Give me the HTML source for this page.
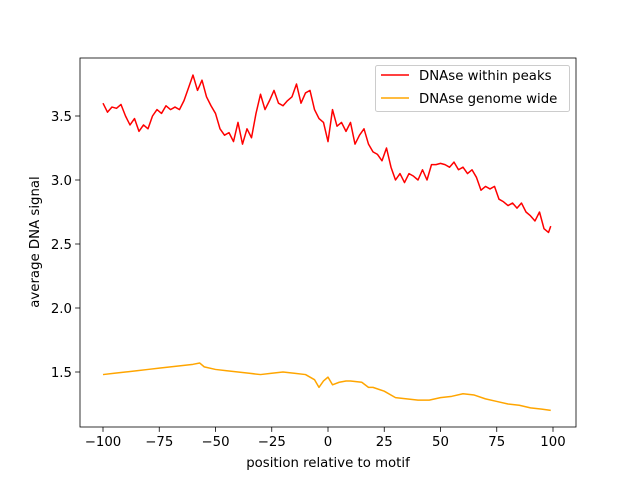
<!DOCTYPE html>
<html><head><meta charset="utf-8"><style>body{margin:0;background:#fff}svg text{font-family:"DejaVu Sans","Liberation Sans",sans-serif;}</style></head>
<body>
<svg id="c" width="640" height="480"></svg>
<script>
const redX=[-100,-98,-96,-94,-92,-90,-88,-86,-84,-82,-80,-78,-76,-74,-72,-70,-68,-66,-64,-62,-60,-58,-56,-54,-52,-50,-48,-46,-44,-42,-40,-38,-36,-34,-32,-30,-28,-26,-24,-22,-20,-18,-16,-14,-12,-10,-8,-6,-4,-2,0,2,4,6,8,10,12,14,16,18,20,22,24,26,28,30,32,34,36,38,40,42,44,46,48,50,52,54,56,58,60,62,64,66,68,70,72,74,76,78,80,82,84,86,88,90,92,94,96,98,99];
const redY=[3.60,3.53,3.57,3.56,3.59,3.50,3.43,3.48,3.38,3.43,3.40,3.50,3.55,3.52,3.58,3.55,3.57,3.55,3.62,3.72,3.82,3.70,3.78,3.65,3.58,3.52,3.40,3.35,3.37,3.30,3.45,3.28,3.40,3.33,3.52,3.67,3.55,3.62,3.70,3.60,3.58,3.62,3.65,3.75,3.60,3.68,3.70,3.55,3.48,3.45,3.30,3.55,3.42,3.45,3.38,3.45,3.28,3.35,3.40,3.28,3.22,3.20,3.15,3.25,3.10,3.00,3.05,2.98,3.05,3.03,3.00,3.08,3.00,3.12,3.12,3.13,3.12,3.10,3.14,3.08,3.10,3.05,3.08,3.02,2.92,2.95,2.93,2.95,2.85,2.83,2.80,2.82,2.78,2.82,2.75,2.72,2.68,2.75,2.62,2.59,2.64];
const orX=[-100,-95,-90,-85,-80,-75,-70,-65,-60,-57,-55,-50,-45,-40,-35,-30,-25,-20,-15,-10,-6,-4,-2,0,2,5,8,10,15,18,20,25,30,35,40,45,50,55,60,65,70,75,80,85,90,95,99];
const orY=[1.48,1.49,1.50,1.51,1.52,1.53,1.54,1.55,1.56,1.57,1.54,1.52,1.51,1.50,1.49,1.48,1.49,1.50,1.49,1.48,1.44,1.38,1.43,1.46,1.40,1.42,1.43,1.43,1.42,1.38,1.38,1.35,1.30,1.29,1.28,1.28,1.30,1.31,1.33,1.32,1.29,1.27,1.25,1.24,1.22,1.21,1.20];
const xTicks=[-100,-75,-50,-25,0,25,50,75,100];
const yTicks=[1.5,2.0,2.5,3.0,3.5];
const L=80,R=576,T=58,B=427;
const sx=v=>103+(v+100)*2.25;
const sy=v=>116-(v-3.5)*128;
const svg=document.getElementById('c');const NS='http://www.w3.org/2000/svg';
function mk(t,a,p){const e=document.createElementNS(NS,t);for(const k in a)e.setAttribute(k,a[k]);(p||svg).appendChild(e);return e;}
function line(xs,ys,col,name){const p=mk('polyline',{points:xs.map((x,i)=>sx(x)+','+sy(ys[i])).join(' '),fill:'none',stroke:col,'stroke-width':1.5,'stroke-linejoin':'round'});

}
line(orX,orY,'#ffa500','genome-wide-line');
line(redX,redY,'#ff0000','within-peaks-line');
const ax=mk('rect',{x:L,y:T,width:R-L,height:B-T,fill:'none',stroke:'#000','stroke-width':0.8});


xTicks.forEach(v=>{const x=sx(v);mk('line',{x1:x,x2:x,y1:B,y2:B+4.9,stroke:'#000','stroke-width':0.8});
const t=mk('text',{x:x,y:B+19,'text-anchor':'middle','font-size':13.3});t.textContent=(v<0?'\u2212'+(-v):v);

});
yTicks.forEach(v=>{const y=sy(v);mk('line',{x1:L,x2:L-4.9,y1:y,y2:y,stroke:'#000','stroke-width':0.8});
const t=mk('text',{x:L-8,y:y+4.8,'text-anchor':'end','font-size':13.3});t.textContent=v.toFixed(1);

});
const xt=mk('text',{x:328,y:467,'text-anchor':'middle','font-size':13.3});xt.textContent='position relative to motif';


const yt=mk('text',{x:0,y:0,'text-anchor':'middle','font-size':13.3,transform:'translate(39,242) rotate(-90)'});yt.textContent='average DNA signal';


const lg=mk('g',{});


mk('rect',{x:375.5,y:65.5,width:194,height:46,rx:2,fill:'#fff','fill-opacity':0.8,stroke:'#ccc'},lg);
[['DNAse within peaks','#ff0000',75],['DNAse genome wide','#ffa500',98]].forEach(([n,c,y])=>{
mk('line',{x1:381,x2:409,y1:y,y2:y,stroke:c,'stroke-width':1.5},lg);
const t=mk('text',{x:419,y:y+4.8,'font-size':13.3},lg);t.textContent=n;

});
</script>
</body></html>
